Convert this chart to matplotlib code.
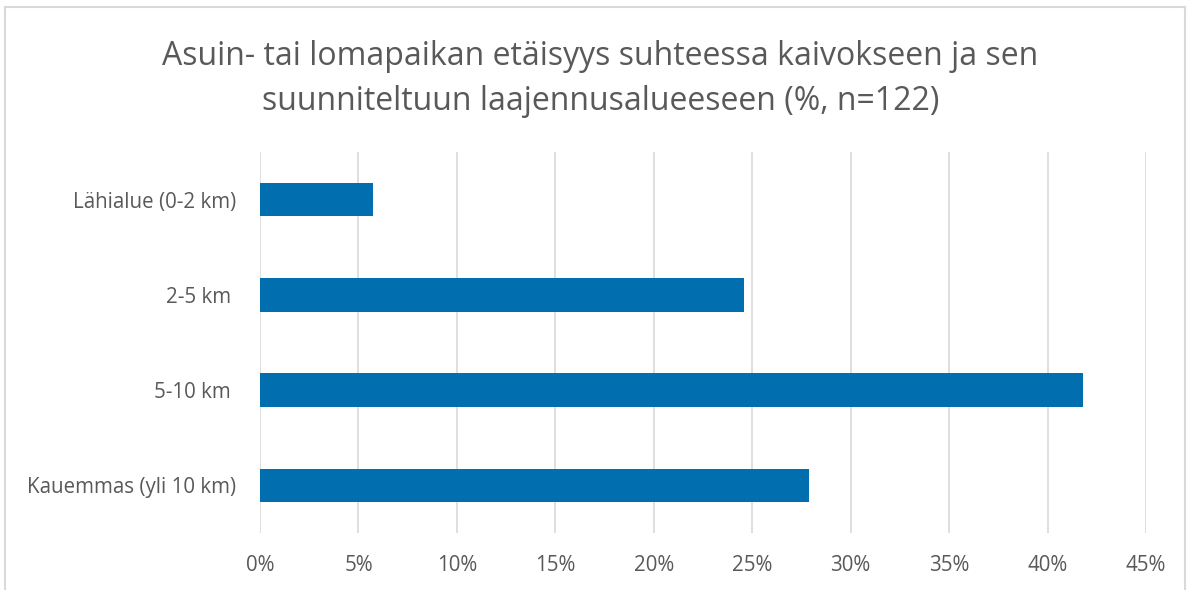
import matplotlib.pyplot as plt
from matplotlib.ticker import PercentFormatter
from matplotlib.lines import Line2D

# data
categories = ['Lähialue (0-2 km)', '2-5 km ', '5-10 km ', 'Kauemmas (yli 10 km)']
values = [5.74, 24.59, 41.80, 27.87]
xticks = [0, 5, 10, 15, 20, 25, 30, 35, 40, 45]

plt.rcParams['font.family'] = ['Open Sans', 'DejaVu Sans']
text_color = '#595959'

fig = plt.figure(figsize=(11.89, 5.90), dpi=100)
ax = fig.add_axes([260 / 1189, 1 - 533 / 590, 886 / 1189, 381 / 590])

ypos = list(range(len(categories)))
ax.barh(ypos, values, height=0.35, color='#006EAF', zorder=3)
ax.set_yticks(ypos)
ax.set_yticklabels(categories)
ax.set_ylim(3.5, -0.5)
ax.set_xlim(0, 45)
ax.set_xticks(xticks)
ax.xaxis.set_major_formatter(PercentFormatter(decimals=0))
ax.grid(axis='x', color='#D9D9D9', linewidth=1.2, zorder=0)
for s in ax.spines.values():
    s.set_visible(False)
ax.tick_params(axis='both', length=0, colors=text_color, labelsize=14.8)
ax.tick_params(axis='y', pad=17)
ax.tick_params(axis='x', pad=16)

fig.text(0.505, 0.866, 'Asuin- tai lomapaikan etäisyys suhteessa kaivokseen ja sen\nsuunniteltuun laajennusalueeseen (%, n=122)',
         ha='center', va='center', fontsize=23, color=text_color, linespacing=1.45)

# chart frame
frame = dict(color='#D9D9D9', linewidth=1.5, transform=fig.transFigure)
fig.add_artist(Line2D([5 / 1189, 5 / 1189], [0, 1 - 7 / 590], **frame))
fig.add_artist(Line2D([5 / 1189, 1185 / 1189], [1 - 7 / 590, 1 - 7 / 590], **frame))
fig.add_artist(Line2D([1185 / 1189, 1185 / 1189], [0, 1 - 7 / 590], **frame))

fig.savefig('out.png', dpi=100)
